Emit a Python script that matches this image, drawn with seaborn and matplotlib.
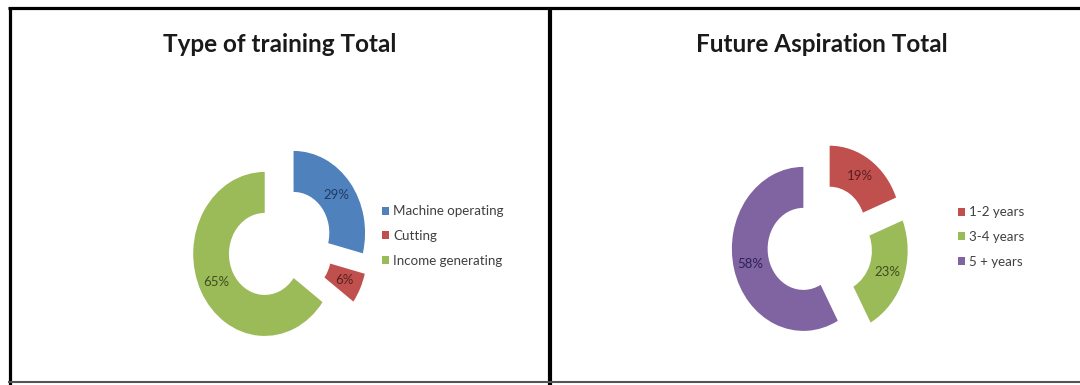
import matplotlib
matplotlib.use("Agg")
import matplotlib.pyplot as plt
from matplotlib.lines import Line2D
from matplotlib.patches import Patch
import seaborn as sns

# ---- data ----
training_labels = ["Machine operating", "Cutting", "Income generating"]
training_values = [29, 6, 65]
aspiration_labels = ["1-2 years", "3-4 years", "5 + years"]
aspiration_values = [19, 23, 58]
titles = ["Type of training Total", "Future Aspiration Total"]

BLUE, RED, GREEN, PURPLE = "#4F81BD", "#C0504D", "#9BBB59", "#8064A2"
training_colors = [BLUE, RED, GREEN]
aspiration_colors = [RED, GREEN, PURPLE]

sns.set_theme(style="white")
plt.rcParams["font.family"] = ["Lato", "DejaVu Sans"]

W, H = 1080, 385
fig = plt.figure(figsize=(W / 100, H / 100), dpi=100)
fig.patch.set_facecolor("white")

SX, SY = 71.5, 82.0  # pixels per data unit (chart is horizontally squeezed)
BOX = 240


def donut(cx, cy, values, colors, label_colors):
    ax = fig.add_axes([(cx - BOX / 2) / W, 1 - (cy + BOX / 2) / H, BOX / W, BOX / H])
    wedges, texts, autotexts = ax.pie(
        values, colors=colors, startangle=90, counterclock=False,
        explode=[0.24] * len(values), radius=1.0,
        wedgeprops=dict(width=0.5, edgecolor="none", linewidth=0),
        autopct="%.0f%%", pctdistance=0.76,
        textprops=dict(fontsize=9.5),
    )
    for t, c in zip(autotexts, label_colors):
        t.set_color(c)
    ax.set_aspect("auto")
    ax.set_xlim(-BOX / 2 / SX, BOX / 2 / SX)
    ax.set_ylim(-BOX / 2 / SY, BOX / 2 / SY)
    ax.axis("off")
    return ax


donut(280, 245, training_values, training_colors, ["#1F3B66", "#5A1F1E", "#3E4D1F"])
donut(820, 244, aspiration_values, aspiration_colors, ["#5A1F1E", "#3E4D1F", "#2E2150"])

# titles
fig.text(280 / W, 1 - 52 / H, titles[0], ha="center", va="baseline",
         fontsize=17.5, fontweight="bold", color="#1a1a1a")
fig.text(822 / W, 1 - 52 / H, titles[1], ha="center", va="baseline",
         fontsize=17.5, fontweight="bold", color="#1a1a1a")


def legend(x, y, labels, colors):
    handles = [Patch(facecolor=c, edgecolor="none") for c in colors]
    fig.legend(handles, labels, loc="center left",
               bbox_to_anchor=(x / W, 1 - y / H), bbox_transform=fig.transFigure,
               frameon=False, fontsize=9.6, labelcolor="#404040",
               handlelength=0.55, handleheight=0.55, handletextpad=0.3,
               labelspacing=0.95, borderpad=0, borderaxespad=0)


legend(382, 236, training_labels, training_colors)
legend(958, 237, aspiration_labels, aspiration_colors)

# panel frames
def fline(x0, y0, x1, y1, lw, color="black"):
    fig.add_artist(Line2D([x0 / W, x1 / W], [1 - y0 / H, 1 - y1 / H],
                          transform=fig.transFigure, color=color, linewidth=lw,
                          solid_capstyle="butt"))


fline(9.5, 6.5, 9.5, 385, 2.3)
fline(8, 8, 1080, 8, 2.3)
fline(549.5, 6.5, 549.5, 385, 3.0)
fline(8, 382, 1080, 382, 1.5, "#555555")

fig.savefig("out.png", dpi=100, facecolor="white")
